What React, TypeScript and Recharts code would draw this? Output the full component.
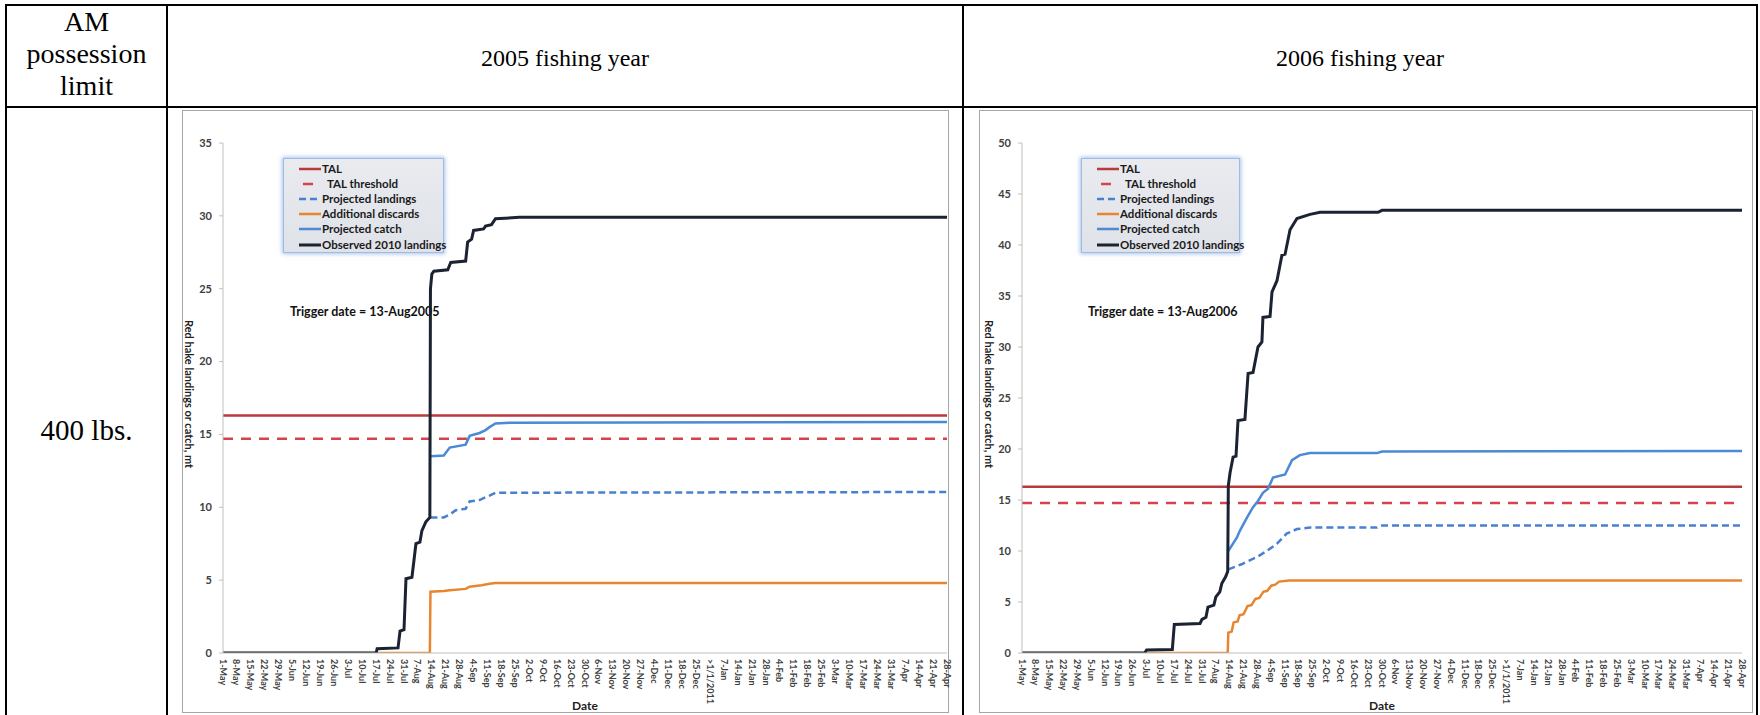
import React from 'react';
import { LineChart, Line, XAxis, YAxis } from 'recharts';

type Pt = [number, number];

const dateLabels = ['1-May','8-May','15-May','22-May','29-May','5-Jun','12-Jun','19-Jun','26-Jun','3-Jul','10-Jul','17-Jul','24-Jul','31-Jul','7-Aug','14-Aug','21-Aug','28-Aug','4-Sep','11-Sep','18-Sep','25-Sep','2-Oct','9-Oct','16-Oct','23-Oct','30-Oct','6-Nov','13-Nov','20-Nov','27-Nov','4-Dec','11-Dec','18-Dec','25-Dec','>1/1/2011','7-Jan','14-Jan','21-Jan','28-Jan','4-Feb','11-Feb','18-Feb','25-Feb','3-Mar','10-Mar','17-Mar','24-Mar','31-Mar','7-Apr','14-Apr','21-Apr','28-Apr'];
const tickDays = dateLabels.map((_, i) => i * 7);

const seriesNames = ['TAL', 'TAL threshold', 'Projected landings', 'Additional discards', 'Projected catch', 'Observed 2010 landings'];

const yTicks2005 = [0, 5, 10, 15, 20, 25, 30, 35];
const yTicks2006 = [0, 5, 10, 15, 20, 25, 30, 35, 40, 45, 50];

// ---- 2005 fishing year (day of fishing year, mt) ----
const tal2005: Pt[] = [[0, 16.3], [364, 16.3]];
const threshold2005: Pt[] = [[0, 14.7], [364, 14.7]];
const landings2005: Pt[] = [[104.3, 9.3], [111, 9.3], [114, 9.5], [117, 9.8], [122, 9.9], [124, 10.4], [129, 10.5], [132, 10.7], [134, 10.8], [137, 11.0], [144, 11.0], [364, 11.05]];
const discards2005: Pt[] = [[0, 0], [104, 0], [104.3, 4.2], [111, 4.25], [114, 4.3], [122, 4.4], [124, 4.55], [130, 4.65], [134, 4.75], [137, 4.8], [364, 4.8]];
const catch2005: Pt[] = [[104.3, 13.5], [111, 13.55], [114, 14.1], [122, 14.3], [124, 14.9], [129, 15.1], [132, 15.3], [134, 15.5], [137, 15.75], [144, 15.8], [364, 15.85]];
const observed2005: Pt[] = [[0, 0], [77, 0], [77.5, 0.3], [88, 0.35], [89, 1.5], [91, 1.6], [92, 5.1], [95, 5.2], [97, 7.5], [99, 7.6], [100, 8.4], [102, 9.0], [104, 9.3], [104.3, 25.0], [105, 26.0], [106, 26.2], [113, 26.3], [114.5, 26.8], [122, 26.9], [123, 28.2], [125, 28.4], [126, 29.0], [131, 29.1], [132, 29.3], [135, 29.4], [137, 29.8], [149, 29.9], [364, 29.9]];

// ---- 2006 fishing year ----
const tal2006: Pt[] = [[0, 16.3], [364, 16.3]];
const threshold2006: Pt[] = [[0, 14.7], [364, 14.7]];
const landings2006: Pt[] = [[104.3, 8.2], [111, 8.7], [118.7, 9.4], [123.7, 10.0], [128.8, 10.7], [133.8, 11.7], [139, 12.15], [145.6, 12.3], [179.5, 12.3], [182, 12.5], [364, 12.5]];
const discards2006: Pt[] = [[0, 0], [104, 0], [104.3, 2.0], [106, 2.1], [107, 3.0], [109, 3.1], [110, 3.7], [112, 3.8], [114, 4.6], [116, 4.7], [118, 5.3], [120, 5.4], [122, 6.0], [124, 6.1], [126, 6.6], [128, 6.7], [130, 7.0], [135, 7.1], [364, 7.1]];
const catch2006: Pt[] = [[104.3, 10.0], [108.6, 11.3], [110.2, 12.0], [113.8, 13.3], [116.8, 14.3], [119.3, 14.9], [121.8, 15.7], [124.4, 16.1], [126.9, 17.2], [133, 17.5], [136.5, 18.9], [140.5, 19.4], [145.6, 19.6], [179.5, 19.6], [182, 19.75], [364, 19.8]];
const observed2006: Pt[] = [[0, 0], [62, 0], [63, 0.3], [76, 0.35], [77, 2.8], [90, 2.9], [91, 3.3], [93, 3.5], [94, 4.5], [97, 4.7], [98, 5.5], [100, 6.0], [101, 6.8], [103, 7.5], [104, 8.0], [104.3, 16.4], [105.2, 17.7], [106.7, 19.2], [108.2, 19.3], [109.2, 22.8], [112.7, 22.9], [114.3, 27.4], [116.8, 27.5], [119.3, 30.0], [121.3, 30.5], [121.8, 32.9], [125.4, 33.0], [126.4, 35.4], [128.9, 36.5], [131.4, 39.0], [133, 39.1], [135.5, 41.5], [139, 42.6], [145.6, 43.0], [150.7, 43.2], [180, 43.2], [182, 43.4], [364, 43.4]];

const seriesStyles = [
  { color: '#B83A3A', width: 2.5, dash: undefined as string | undefined, legendOffset: 0 },
  { color: '#D6434C', width: 2.5, dash: '10 8', legendOffset: -4 },
  { color: '#4A80CF', width: 2.5, dash: '7 4', legendOffset: 0 },
  { color: '#E8862F', width: 2.5, dash: undefined, legendOffset: 0 },
  { color: '#4A8AD6', width: 2.5, dash: undefined, legendOffset: 0 },
  { color: '#1B2333', width: 3, dash: undefined, legendOffset: 0 },
];

const charts = [
  {
    key: '2005', left: 182, width: 767, marginRight: 2, yAxisWidth: 41, yMax: 35, yTicks: yTicks2005,
    series: [tal2005, threshold2005, landings2005, discards2005, catch2005, observed2005],
    trigger: 'Trigger date = 13-Aug2005', triggerLeft: 108, legendLeft: 101, legendWidth: 161, yTitleLeft: 1,
  },
  {
    key: '2006', left: 979, width: 774, marginRight: 11, yAxisWidth: 43, yMax: 50, yTicks: yTicks2006,
    series: [tal2006, threshold2006, landings2006, discards2006, catch2006, observed2006],
    trigger: 'Trigger date = 13-Aug2006', triggerLeft: 109, legendLeft: 102, legendWidth: 159, yTitleLeft: 4,
  },
];

const FONT = 'Lato, "Open Sans", sans-serif';
const SERIF = '"Liberation Serif", "Times New Roman", serif';

const toRows = (pts: Pt[]) => pts.map(([d, v]) => ({ d, v }));

const XTick = (props: any) => {
  const { x, y, payload } = props;
  const label = dateLabels[Math.round(payload.value / 7)] ?? '';
  return (
    <text x={x} y={y} transform={`rotate(90 ${x} ${y})`} textAnchor="start" dominantBaseline="central"
      fontFamily={FONT} fontSize={9} fontWeight={700} fill="#404040">{label}</text>
  );
};

const CHART_TOP = 110;
const CHART_H = 603;

function YearChart({ c }: { c: (typeof charts)[number] }) {
  return (
    <div style={{ position: 'absolute', left: c.left, top: CHART_TOP, width: c.width, height: CHART_H, background: '#fff', boxShadow: 'inset 0 0 0 1px #a6a6a6' }}>
      <div style={{ position: 'absolute', left: c.triggerLeft, top: 194, fontFamily: FONT, fontSize: 12.5, fontWeight: 700, color: '#111', whiteSpace: 'nowrap', lineHeight: '16px' }}>{c.trigger}</div>
      <div style={{ position: 'absolute', left: c.yTitleLeft, top: 210, writingMode: 'vertical-rl', fontFamily: FONT, fontSize: 11, fontWeight: 700, color: '#222', whiteSpace: 'nowrap', lineHeight: '13px' }}>Red hake landings or catch, mt</div>
      <div style={{ position: 'absolute', left: 403 - 40, width: 80, top: 588, textAlign: 'center', fontFamily: FONT, fontSize: 12, fontWeight: 700, color: '#222', lineHeight: '15px' }}>Date</div>
      <div style={{ position: 'absolute', left: 0, top: 0 }}>
        <LineChart width={c.width} height={CHART_H} margin={{ top: 33, right: c.marginRight, bottom: 0, left: 0 }} style={{ overflow: 'visible' }}>
          <XAxis dataKey="d" type="number" domain={[0, 364]} ticks={tickDays} interval={0} allowDataOverflow
            height={60} tickSize={0} tickMargin={6} tickLine={false} axisLine={{ stroke: '#bfbfbf' }} tick={<XTick />} />
          <YAxis type="number" domain={[0, c.yMax]} ticks={c.yTicks} interval={0} allowDataOverflow width={c.yAxisWidth}
            tickSize={4} tickMargin={7} axisLine={{ stroke: '#bfbfbf' }} tickLine={{ stroke: '#bfbfbf' }}
            tick={{ fontFamily: FONT, fontSize: 11, fontWeight: 700, fill: '#404040' }} />
          {c.series.map((s, i) => (
            <Line key={seriesNames[i]} name={seriesNames[i]} data={toRows(s)} dataKey="v" type="linear"
              stroke={seriesStyles[i].color} strokeWidth={seriesStyles[i].width} strokeDasharray={seriesStyles[i].dash}
              dot={false} activeDot={false} isAnimationActive={false} />
          ))}
        </LineChart>
      </div>
      <div style={{ position: 'absolute', left: c.legendLeft, top: 48, width: c.legendWidth, height: 95, boxSizing: 'border-box',
        background: 'linear-gradient(#e9ebef, #dfe2e8)', border: '1px solid #9dbbe6', boxShadow: '0 0 4px 1px rgba(110,155,220,0.6)', paddingTop: 2 }}>
        {seriesNames.map((n, i) => (
          <div key={n} style={{ height: 15.2, display: 'flex', alignItems: 'center' }}>
            <svg width={37} height={8} style={{ flex: 'none' }}>
              <line x1={15} y1={4} x2={37} y2={4} stroke={seriesStyles[i].color} strokeWidth={seriesStyles[i].width}
                strokeDasharray={seriesStyles[i].dash} strokeDashoffset={seriesStyles[i].legendOffset} />
            </svg>
            <span style={{ marginLeft: i === 1 ? 6 : 1, fontFamily: FONT, fontSize: 11.5, fontWeight: 700, color: '#1a1a1a', whiteSpace: 'nowrap', lineHeight: '14px' }}>{n}</span>
          </div>
        ))}
      </div>
    </div>
  );
}

const line = (left: number, top: number, width: number, height: number) => (
  <div style={{ position: 'absolute', left, top, width, height, background: '#000' }} />
);

export default function App() {
  return (
    <div style={{ position: 'absolute', left: 0, top: 0, width: 1760, height: 715, background: '#fff', overflow: 'hidden' }}>
      <style>{'.recharts-surface{overflow:visible}'}</style>
      <div style={{ position: 'absolute', left: 7, top: 6, width: 159, textAlign: 'center', fontFamily: SERIF, fontSize: 28, lineHeight: '32px', color: '#000' }}>
        AM<br />possession<br />limit
      </div>
      <div style={{ position: 'absolute', left: 168, top: 42, width: 794, textAlign: 'center', fontFamily: SERIF, fontSize: 24, lineHeight: '32px', color: '#000' }}>2005 fishing year</div>
      <div style={{ position: 'absolute', left: 964, top: 42, width: 792, textAlign: 'center', fontFamily: SERIF, fontSize: 24, lineHeight: '32px', color: '#000' }}>2006 fishing year</div>
      <div style={{ position: 'absolute', left: 7, top: 413, width: 159, textAlign: 'center', fontFamily: SERIF, fontSize: 29, lineHeight: '34px', color: '#000' }}>400 lbs.</div>
      {charts.map((c) => <YearChart key={c.key} c={c} />)}
      {line(5, 4, 1753, 2)}
      {line(5, 106, 1753, 2)}
      {line(5, 4, 2, 711)}
      {line(166, 4, 2, 711)}
      {line(962, 4, 2, 711)}
      {line(1756, 4, 2, 711)}
    </div>
  );
}
